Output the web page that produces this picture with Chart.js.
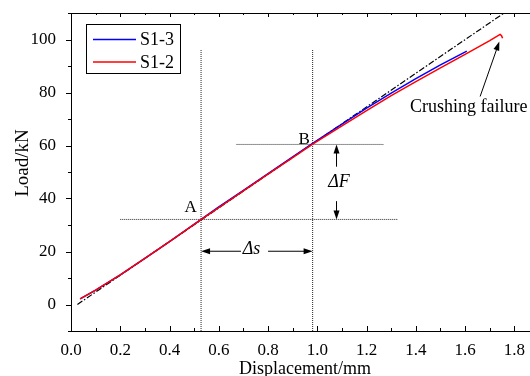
<!DOCTYPE html>
<html><head><meta charset="utf-8">
<script src="https://cdn.jsdelivr.net/npm/chart.js@4/dist/chart.umd.min.js"></script>
<style>
html,body{margin:0;padding:0;overflow:hidden;background:#fff;width:530px;height:376px}
#wrap{position:relative;width:548px;height:376px}
</style></head>
<body><div id="wrap"><canvas id="c" width="548" height="376"></canvas></div>
<script>
// ---- axis ticks ----
const xTickValues = [0, 0.2, 0.4, 0.6, 0.8, 1.0, 1.2, 1.4, 1.6, 1.8];
const yTickValues = [0, 20, 40, 60, 80, 100];

// ---- series ----
const s13Label = 'S1-3';
const s13X = [0.037, 0.1, 0.2, 0.3, 0.4, 0.528, 0.6, 0.7, 0.8, 0.9, 0.981, 1.1, 1.2, 1.3, 1.4, 1.5, 1.607];
const s13Y = [2.1, 5.4, 11.2, 17.4, 23.7, 32.1, 36.8, 43.1, 49.4, 55.7, 60.8, 68.1, 74.1, 79.8, 85.2, 90.4, 95.6];

const s12Label = 'S1-2';
const s12X = [0.037, 0.1, 0.2, 0.3, 0.4, 0.528, 0.6, 0.7, 0.8, 0.9, 0.981, 1.1, 1.2, 1.3, 1.4, 1.5, 1.6, 1.7, 1.742, 1.748, 1.752];
const s12Y = [2.1, 5.4, 11.2, 17.4, 23.7, 32.0, 36.6, 42.9, 49.2, 55.4, 60.5, 67.4, 73.2, 78.8, 84.1, 89.3, 94.4, 99.6, 101.9, 101.4, 100.5];

// secant (dash-dot) line through A and B
const secantX = [0.026, 1.755];
const secantY = [0, 109.8];

// reference construction lines
const refAvX = [0.528, 0.528], refAvY = [-10, 96];
const refBvX = [0.981, 0.981], refBvY = [-10, 96];
const refAhX = [0.2, 1.327],   refAhY = [32.1, 32.1];
const refBhX = [0.672, 1.268], refBhY = [60.4, 60.4];

// annotation anchors (data coordinates)
const labelA = {text: 'A', x: 0.486, y: 35.0};
const labelB = {text: 'B', x: 0.947, y: 60.4};
const dFArrowX = 1.078, dFUp = [52.0, 60.4], dFDown = [39.0, 32.1];
const dFLabel = {text: 'ΔF', x: 1.088, y: 44.2};
const dsArrowY = 20.1, dsLeft = [0.69, 0.528], dsRight = [0.80, 0.981];
const dsLabel = {text: 'Δs', x: 0.733, y: 18.9};
const crushLabel = {text: 'Crushing failure', x: 1.376, y: 72.5};
const crushArrow = {x1: 1.661, y1: 78.5, x2: 1.739, y2: 99.2};

const xTitle = 'Displacement/mm';
const yTitle = 'Load/kN';

const FONT = "'Liberation Serif', 'Times New Roman', serif";
Chart.defaults.font.family = FONT;
Chart.defaults.color = '#000';

const pts = (xs, ys) => xs.map((x, i) => ({x: x, y: ys[i]}));
const refStyle = {borderColor: '#262626', borderWidth: 1, borderDash: [1, 1], pointRadius: 0, showLine: true, order: 4, fill: false};

function arrow(ctx, x1, y1, x2, y2, len, half) {
  const a = Math.atan2(y2 - y1, x2 - x1);
  ctx.beginPath(); ctx.moveTo(x1, y1); ctx.lineTo(x2 - Math.cos(a) * len * 0.6, y2 - Math.sin(a) * len * 0.6); ctx.stroke();
  ctx.beginPath();
  ctx.moveTo(x2, y2);
  ctx.lineTo(x2 - Math.cos(a) * len - Math.sin(a) * half, y2 - Math.sin(a) * len + Math.cos(a) * half);
  ctx.lineTo(x2 - Math.cos(a) * len + Math.sin(a) * half, y2 - Math.sin(a) * len - Math.cos(a) * half);
  ctx.closePath(); ctx.fill();
}

const decor = {
  id: 'decor',
  afterDraw(chart) {
    const ctx = chart.ctx, xs = chart.scales.x, ys = chart.scales.y, ca = chart.chartArea;
    const X = v => xs.getPixelForValue(v), Y = v => ys.getPixelForValue(v);
    ctx.save();
    ctx.strokeStyle = '#000'; ctx.fillStyle = '#000'; ctx.lineWidth = 1;
    // top border
    ctx.beginPath(); ctx.moveTo(ca.left, Math.round(ca.top) + 0.5); ctx.lineTo(ca.right, Math.round(ca.top) + 0.5); ctx.stroke();
    // x ticks (inward, bottom and top)
    for (let i = 0; i <= 19; i++) {
      const px = Math.round(X(i / 10)) + 0.5, len = i % 2 === 0 ? 5 : 3;
      ctx.beginPath();
      ctx.moveTo(px, ca.bottom); ctx.lineTo(px, ca.bottom - len);
      ctx.moveTo(px, ca.top); ctx.lineTo(px, ca.top + len - 1);
      ctx.stroke();
    }
    // y ticks (outward)
    for (let v = -10; v <= 110; v += 10) {
      const py = Math.round(Y(v)) + 0.5, len = v % 20 === 0 ? 5 : 3;
      ctx.beginPath(); ctx.moveTo(ca.left, py); ctx.lineTo(ca.left - len, py); ctx.stroke();
    }
    // arrows
    arrow(ctx, X(dFArrowX), Y(dFUp[0]), X(dFArrowX), Y(dFUp[1]), 9, 3);
    arrow(ctx, X(dFArrowX), Y(dFDown[0]), X(dFArrowX), Y(dFDown[1]), 9, 3);
    arrow(ctx, X(dsLeft[0]), Y(dsArrowY), X(dsLeft[1]), Y(dsArrowY), 9, 3);
    arrow(ctx, X(dsRight[0]), Y(dsArrowY), X(dsRight[1]), Y(dsArrowY), 9, 3);
    arrow(ctx, X(crushArrow.x1), Y(crushArrow.y1), X(crushArrow.x2), Y(crushArrow.y2), 9, 3);
    // labels
    ctx.textBaseline = 'alphabetic';
    ctx.textAlign = 'center';
    ctx.font = '17px ' + FONT;
    ctx.fillText(labelA.text, X(labelA.x), Y(labelA.y));
    ctx.fillText(labelB.text, X(labelB.x), Y(labelB.y));
    ctx.font = 'italic 18px ' + FONT;
    ctx.fillText(dFLabel.text, X(dFLabel.x), Y(dFLabel.y));
    ctx.fillText(dsLabel.text, X(dsLabel.x), Y(dsLabel.y));
    ctx.textAlign = 'left';
    ctx.font = '18px ' + FONT;
    ctx.fillText(crushLabel.text, X(crushLabel.x), Y(crushLabel.y));
    // y title
    ctx.save();
    ctx.translate(23, (ca.top + ca.bottom) / 2 - 9);
    ctx.rotate(-Math.PI / 2);
    ctx.textAlign = 'center'; ctx.textBaseline = 'middle';
    ctx.font = '19px ' + FONT;
    ctx.fillText(yTitle, 0, 0);
    ctx.restore();
    // legend
    const lx = ca.left + 15, ly = ca.top + 10.5, lw = 94, lh = 49;
    ctx.fillStyle = '#fff'; ctx.fillRect(lx, ly, lw, lh);
    ctx.strokeStyle = '#000'; ctx.lineWidth = 1;
    ctx.strokeRect(Math.round(lx) + 0.5, Math.round(ly) + 0.5, lw, lh);
    const items = [chart.data.datasets[1], chart.data.datasets[0]];
    ctx.font = '18px ' + FONT; ctx.textAlign = 'left'; ctx.textBaseline = 'middle';
    items.forEach((d, i) => {
      const yy = ly + 16 + i * 22.4;
      ctx.strokeStyle = d.borderColor; ctx.lineWidth = 1.5;
      ctx.beginPath(); ctx.moveTo(lx + 7, yy); ctx.lineTo(lx + 50, yy); ctx.stroke();
      ctx.fillStyle = '#000';
      ctx.fillText(d.label, lx + 54, yy + 1);
    });
    ctx.restore();
  }
};

new Chart(document.getElementById('c'), {
  type: 'scatter',
  data: {
    datasets: [
      {label: s12Label, data: pts(s12X, s12Y), borderColor: '#ff0000', backgroundColor: '#ff0000', borderWidth: 1.5, pointRadius: 0, showLine: true, order: 0},
      {label: s13Label, data: pts(s13X, s13Y), borderColor: '#0000ff', backgroundColor: '#0000ff', borderWidth: 1.5, pointRadius: 0, showLine: true, order: 1},
      {label: 'secant', data: pts(secantX, secantY), borderColor: '#000', borderWidth: 1.2, borderDash: [6, 2, 1.5, 2], pointRadius: 0, showLine: true, order: 2},
      Object.assign({label: 'refAv', data: pts(refAvX, refAvY)}, refStyle),
      Object.assign({label: 'refBv', data: pts(refBvX, refBvY)}, refStyle),
      Object.assign({label: 'refAh', data: pts(refAhX, refAhY)}, refStyle),
      Object.assign({label: 'refBh', data: pts(refBhX, refBhY)}, refStyle)
    ]
  },
  options: {
    responsive: false,
    animation: false,
    devicePixelRatio: 1,
    layout: {padding: {left: 0, top: 13, right: 9, bottom: 0}},
    plugins: {legend: {display: false}, tooltip: {enabled: false}},
    scales: {
      x: {
        type: 'linear', min: 0, max: 1.9,
        afterBuildTicks: s => { s.ticks = xTickValues.map(v => ({value: v})); },
        afterFit: s => { s.height = 45; s.paddingLeft = 0; s.paddingRight = 0; },
        grid: {display: false},
        border: {display: true, color: '#000', width: 1},
        ticks: {font: {family: FONT, size: 17}, padding: 1, maxRotation: 0, color: '#000', callback: v => Number(v).toFixed(1)},
        title: {display: true, text: xTitle, font: {family: FONT, size: 18, lineHeight: 0.8}, padding: {top: 0, bottom: 0}, color: '#000'}
      },
      y: {
        type: 'linear', min: -10, max: 110,
        afterBuildTicks: s => { s.ticks = yTickValues.map(v => ({value: v})); },
        afterFit: s => { s.width = 71; s.paddingTop = 0; s.paddingBottom = 0; },
        grid: {display: false},
        border: {display: true, color: '#000', width: 1},
        ticks: {font: {family: FONT, size: 17}, padding: 7, color: '#000', callback: v => String(v)}
      }
    }
  },
  plugins: [decor]
});
</script>
</body></html>
